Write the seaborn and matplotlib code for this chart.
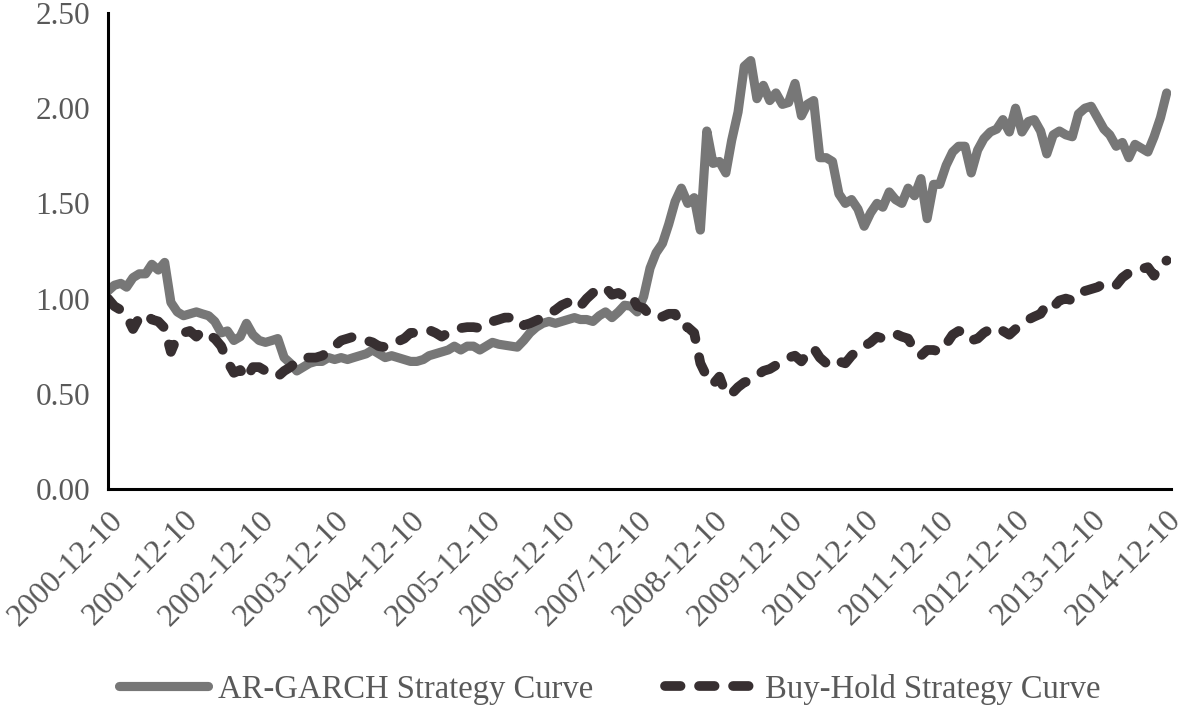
import matplotlib
matplotlib.use("Agg")
import matplotlib.pyplot as plt
import matplotlib.dates as mdates
import numpy as np
import pandas as pd
import seaborn as sns

# monthly values, 2000-12-10 .. 2014-12-10
ar_garch = [
    1.04, 1.07, 1.08, 1.06, 1.11, 1.13, 1.13, 1.18, 1.15, 1.19,
    0.98, 0.93, 0.91, 0.92, 0.93, 0.92, 0.91, 0.88, 0.82, 0.83,
    0.78, 0.80, 0.87, 0.81, 0.78, 0.77, 0.78, 0.79, 0.69, 0.66,
    0.62, 0.64, 0.66, 0.67, 0.67, 0.69, 0.68, 0.69, 0.68, 0.69,
    0.70, 0.71, 0.73, 0.71, 0.69, 0.70, 0.69, 0.68, 0.67, 0.67,
    0.68, 0.70, 0.71, 0.72, 0.73, 0.75, 0.73, 0.75, 0.75, 0.73,
    0.75, 0.77, 0.76, 0.755, 0.75, 0.745, 0.78, 0.82, 0.85, 0.87,
    0.88, 0.87, 0.88, 0.89, 0.90, 0.89, 0.89, 0.88, 0.91, 0.93,
    0.90, 0.93, 0.965, 0.96, 0.93, 1.01, 1.16, 1.24, 1.29, 1.39,
    1.51, 1.58, 1.50, 1.53, 1.36, 1.88, 1.71, 1.72, 1.66, 1.83,
    1.98, 2.22, 2.25, 2.05, 2.12, 2.04, 2.08, 2.02, 2.03, 2.13,
    1.96, 2.02, 2.04, 1.74, 1.74, 1.72, 1.55, 1.50, 1.52, 1.47,
    1.38, 1.45, 1.50, 1.48, 1.56, 1.52, 1.50, 1.58, 1.54, 1.63,
    1.42, 1.60, 1.60, 1.70, 1.77, 1.80, 1.80, 1.66, 1.78, 1.84,
    1.875, 1.89, 1.94, 1.875, 2.00, 1.875, 1.93, 1.94, 1.88, 1.76,
    1.86, 1.88, 1.86, 1.85, 1.97, 2.00, 2.01, 1.95, 1.89, 1.86,
    1.80, 1.82, 1.74, 1.81, 1.79, 1.77, 1.85, 1.95, 2.08,
]
buy_hold = [
    1.00, 0.96, 0.94, 0.91, 0.84, 0.90, 0.92, 0.89, 0.88, 0.845,
    0.72, 0.80, 0.82, 0.83, 0.80, 0.83, 0.81, 0.79, 0.75, 0.67,
    0.61, 0.625, 0.58, 0.64, 0.64, 0.62, 0.60, 0.59, 0.62, 0.64,
    0.67, 0.69, 0.69, 0.69, 0.70, 0.72, 0.75, 0.78, 0.79, 0.80,
    0.79, 0.78, 0.77, 0.75, 0.745, 0.77, 0.775, 0.79, 0.82, 0.82,
    0.825, 0.835, 0.82, 0.80, 0.82, 0.835, 0.845, 0.85, 0.85, 0.845,
    0.86, 0.88, 0.89, 0.90, 0.90, 0.90, 0.86, 0.87, 0.885, 0.90,
    0.92, 0.94, 0.965, 0.98, 0.99, 0.96, 1.00, 1.03, 1.05, 1.06,
    1.02, 1.03, 1.01, 1.02, 0.96, 0.95, 0.91, 0.90, 0.905, 0.92,
    0.92, 0.85, 0.85, 0.82, 0.66, 0.59, 0.55, 0.59, 0.50, 0.50,
    0.535, 0.56, 0.57, 0.595, 0.62, 0.63, 0.65, 0.67, 0.69, 0.70,
    0.67, 0.71, 0.74, 0.69, 0.66, 0.645, 0.67, 0.66, 0.70, 0.73,
    0.75, 0.77, 0.80, 0.79, 0.81, 0.815, 0.80, 0.79, 0.73, 0.70,
    0.73, 0.73, 0.72, 0.76, 0.81, 0.83, 0.82, 0.78, 0.79, 0.82,
    0.84, 0.85, 0.83, 0.81, 0.84, 0.86, 0.89, 0.905, 0.92, 0.97,
    0.955, 0.99, 1.00, 0.99, 1.025, 1.04, 1.05, 1.06, 1.08, 1.08,
    1.07, 1.11, 1.135, 1.135, 1.155, 1.165, 1.12, 1.18, 1.20,
]
dates = pd.date_range("2000-12-10", periods=len(ar_garch), freq=pd.DateOffset(months=1))
tick_dates = pd.date_range("2000-12-10", periods=15, freq=pd.DateOffset(years=1))
y_ticks = [0.0, 0.5, 1.0, 1.5, 2.0, 2.5]

sns.set_style("white")
plt.rcParams["font.family"] = ["Liberation Serif", "DejaVu Serif"]

fig = plt.figure(figsize=(11.81, 7.06), dpi=100)
ax = fig.add_axes([0.0914, 0.3074, 0.9, 0.6742])

sns.lineplot(x=dates, y=ar_garch, ax=ax, color="#777777", lw=6.6,
             label="AR-GARCH Strategy Curve", solid_capstyle="round",
             solid_joinstyle="round")
sns.lineplot(x=dates, y=buy_hold, ax=ax, color="#372f31", lw=7.0,
             linestyle="--", label="Buy-Hold Strategy Curve")
ax.lines[1].set_dashes((1.6, 1.9))
ax.lines[1].set_dash_capstyle("round")

ax.set_ylim(0, 2.5)
ax.set_yticks(y_ticks)
ax.set_yticklabels([f"{v:.2f}" for v in y_ticks])
ax.set_xlim(dates[0], dates[-1] + pd.Timedelta(days=20))
ax.set_xticks(tick_dates)
ax.xaxis.set_major_formatter(mdates.DateFormatter("%Y-%m-%d"))
plt.setp(ax.get_xticklabels(), rotation=45, ha="right", rotation_mode="anchor")

for side in ["top", "right"]:
    ax.spines[side].set_visible(False)
for side in ["left", "bottom"]:
    ax.spines[side].set_color("black")
    ax.spines[side].set_linewidth(2.2)
ax.tick_params(axis="both", direction="out", length=7, width=2.2, color="black",
               labelsize=22.5, labelcolor="#595959", pad=6)
ax.tick_params(axis="x", labelsize=23, pad=5)
ax.set_xlabel("")
ax.set_ylabel("")

handles, labels = ax.get_legend_handles_labels()
ax.get_legend().remove()
fig.legend(handles, labels, loc="center", bbox_to_anchor=(0.516, 0.024), ncol=2,
           frameon=False, fontsize=23.5, handlelength=2.75, columnspacing=2.2,
           handletextpad=0.3, labelcolor="#595959")

fig.savefig("out.png", dpi=100)
